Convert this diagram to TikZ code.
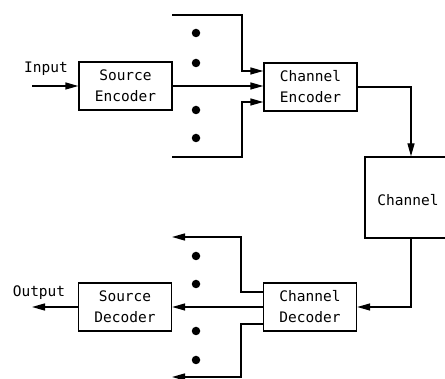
\documentclass[tikz,border=0pt]{standalone}
\usepackage{fontspec}
\setmonofont{DejaVu Sans Mono}
\usetikzlibrary{arrows.meta}
\begin{document}
\begin{tikzpicture}[x=1pt,y=-1pt,
  line width=1.3pt,
  txt/.style={font=\ttfamily\fontsize{14.5}{21}\selectfont, align=center, inner sep=0pt},
  blk/.style={txt, draw, rectangle, minimum width=93pt, minimum height=48pt},
  sig/.style={-{Triangle[length=13pt,width=7pt]}},
  dot/.style={circle, fill, inner sep=0pt, minimum size=8.5pt}]
\useasboundingbox (0,0) rectangle (445,379);

% blocks
\node[blk] (se) at (125.5,86) {Source\\Encoder};
\node[blk] (ce) at (310.5,87) {Channel\\Encoder};
\node[blk, minimum width=92pt, minimum height=81pt] (ch) at (411,197.5) {};
\node[txt] (chl) at (408,200) {Channel};
\node[blk] (cd) at (310,307) {Channel\\Decoder};
\node[blk] (sd) at (125,307) {Source\\Decoder};

% labels
\node[txt] (inl) at (46,69) {Input};
\node[txt] (outl) at (39,293) {Output};

% free ends
\coordinate (in) at (32,86);
\coordinate (out) at (32,307);
\coordinate (ta) at (172,15);
\coordinate (tb) at (242,15);
\coordinate (ba) at (172,157);
\coordinate (bb) at (242,157);
\coordinate (la) at (172,237);
\coordinate (lb) at (241,237);
\coordinate (ma) at (172,377);
\coordinate (mb) at (241,377);

% encoder side
\draw[sig] (in) -- (se.west);
\draw[sig] (se.east) -- (se.east -| ce.west);
\draw[sig] (ta) -- (tb) |- ([yshift=16pt]ce.west);
\draw[sig] (ba) -- (bb) |- ([yshift=-15pt]ce.west);
\draw[sig] (ce.east) -| (ch.north);

% decoder side
\draw[sig] (ch.south) |- (cd.east);
\draw[sig] (cd.west) -- (cd.west -| sd.east);
\draw[sig] ([yshift=15pt]cd.west) -| (lb) -- (la);
\draw[sig] ([yshift=-17pt]cd.west) -| (mb) -- (ma);
\draw[sig] (sd.west) -- (out);

% ellipsis dots
\foreach \y [count=\i] in {33,63,110,138} \node[dot] (ud\i) at (196,\y) {};
\foreach \y [count=\i] in {256,284,331,360} \node[dot] (ld\i) at (196,\y) {};
\end{tikzpicture}
\end{document}
